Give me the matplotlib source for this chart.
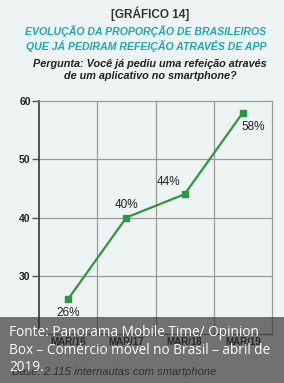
import matplotlib
matplotlib.use('Agg')
import matplotlib.pyplot as plt
from matplotlib.patches import Rectangle

# ---------- Data ----------
years = ['MAR/16', 'MAR/17', 'MAR/18', 'MAR/19']
share = [26, 40, 44, 58]
yticks = [30, 40, 50, 60]

BG = '#eef4f4'
GREEN = '#2b9a3e'
TEAL = '#1ba9b3'
DARK = '#222222'
NARROW = ['Liberation Sans', 'DejaVu Sans']

fig = plt.figure(figsize=(2.84, 3.83), dpi=100)
fig.patch.set_facecolor(BG)

W, H = 284, 383
ax = fig.add_axes([39 / W, 1 - 334 / H, 233 / W, 233 / H])
ax.set_facecolor(BG)

xs = [i + 0.5 for i in range(len(years))]
ax.plot(xs, share, color=GREEN, lw=1.6, marker='s', ms=5, zorder=3)

ax.set_xlim(0, 4)
ax.set_ylim(20, 60)
ax.set_yticks(yticks)
ax.set_yticklabels([str(t) for t in yticks], fontsize=7.5, fontweight='bold',
                   color=DARK, family=NARROW)
ax.set_xticks(xs)
ax.set_xticklabels(years, fontsize=7, fontweight='bold', color=DARK, family=NARROW)
ax.tick_params(axis='x', length=0, pad=2)
ax.tick_params(axis='y', length=5, width=1, color='#555', pad=1)

for x in [1, 2, 3]:
    ax.axvline(x, color='#9a9a9a', lw=0.9, zorder=1)
for y in [30, 40, 50]:
    ax.axhline(y, color='#9a9a9a', lw=0.9, zorder=1)

for s in ['top', 'right']:
    ax.spines[s].set_color('#9a9a9a')
    ax.spines[s].set_linewidth(0.9)
ax.spines['left'].set_color('#444')
ax.spines['left'].set_linewidth(1.3)
ax.spines['bottom'].set_color('#777')
ax.spines['bottom'].set_linewidth(1.0)

# value labels
offsets = [(0, -10, 'center'), (0, 9, 'center'), (-3, 9, 'right'), (-1, -10, 'left')]
for x, v, (dx, dy, ha) in zip(xs, share, offsets):
    ax.annotate(f'{v}%', (x, v), xytext=(dx, dy), textcoords='offset points',
                ha=ha, va='center', fontsize=8.5, color=DARK, family=NARROW)

# ---------- Titles ----------
fig.text(150 / W, 1 - 14 / H, '[GRÁFICO 14]', ha='center', va='center',
         fontsize=8.5, fontweight='bold', color='#333', family=NARROW)
fig.text(146 / W, 1 - 39 / H,
         'EVOLUÇÃO DA PROPORÇÃO DE BRASILEIROS\nQUE JÁ PEDIRAM REFEIÇÃO ATRAVÉS DE APP',
         ha='center', va='center', fontsize=7.6, fontweight='bold', style='italic',
         color=TEAL, family=NARROW, linespacing=1.3)
fig.text(150 / W, 1 - 70 / H,
         'Pergunta: Você já pediu uma refeição através\nde um aplicativo no smartphone?',
         ha='center', va='center', fontsize=7.8, fontweight='bold', style='italic',
         color=DARK, family=NARROW, linespacing=1.35)

fig.text(12 / W, 1 - 372 / H, 'Base: 2.115 internautas com smartphone',
         ha='left', va='center', fontsize=8, style='italic', color='#333', family=NARROW)

# ---------- Source overlay ----------
fig.patches.append(Rectangle((0, 0), 1, 1 - 317 / H, transform=fig.transFigure,
                             facecolor='#2d2d2d', alpha=0.65, edgecolor='none', zorder=5))
fig.text(9 / W, 1 - 350 / H,
         'Fonte: Panorama Mobile Time/ Opinion\nBox – Comércio móvel no Brasil – abril de\n2019.',
         ha='left', va='center', fontsize=9.8, color='white', family=['Open Sans', 'DejaVu Sans'],
         linespacing=1.2, zorder=6)

fig.savefig('out.png', dpi=100, facecolor=BG)
